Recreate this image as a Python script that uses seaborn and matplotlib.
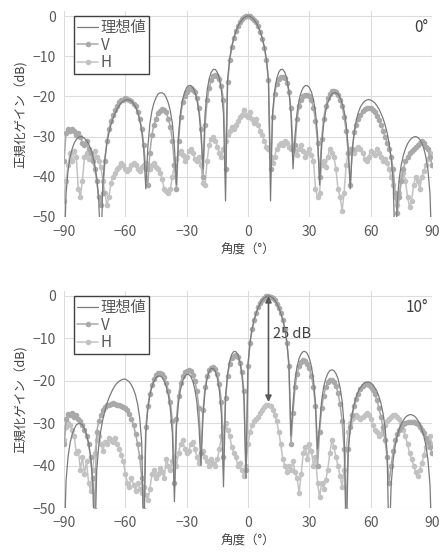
import matplotlib
matplotlib.use('Agg')
import pandas as pd
import matplotlib.pyplot as plt
import seaborn as sns

# Angles (deg), 1 degree step
angles = list(range(-90, 91))

# 0 deg steering: ideal, V, H (dB)
ideal_0 = [
    -60, -44.2, -38.3, -35.1, -33.0, -31.6, -30.7, -30.2, -30, -30.1, -30.4, -31.0, -31.8, -33.0, -34.6, -36.9, -40.2, -46.1,
    -60,
    -41.3, -35.3, -31.6, -29.0, -27.0, -25.4, -24.2, -23.1, -22.3, -21.6, -21.2, -20.9, -20.8, -20.9, -21.2, -21.8, -22.6, -23.9, -25.8, -28.6, -33.3,
    -43,
    -32.6, -26.8, -23.6, -21.6, -20.3, -19.4, -19.1, -19.1, -19.4, -20.3, -21.6, -23.6, -26.8, -32.6,
    -42,
    -29.6, -23.9, -20.8, -18.9, -17.8, -17.3, -17.3, -17.8, -18.9, -20.8, -23.9, -29.6,
    -38,
    -24.2, -18.6, -15.6, -14.0, -13.3, -13.3, -14.0, -15.6, -18.6, -24.2,
    -46,
    -16, -10.8, -7.7, -5.6, -4.0, -2.7, -1.7, -0.95, -0.4, -0.1,
    0,
    -0.1, -0.4, -0.95, -1.7, -2.7, -4.0, -5.6, -7.7, -10.8, -16,
    -46,
    -24.2, -18.6, -15.6, -14.0, -13.3, -13.3, -14.0, -15.6, -18.6, -24.2,
    -38,
    -29.6, -23.9, -20.8, -18.9, -17.8, -17.3, -17.3, -17.8, -18.9, -20.8, -23.9, -29.6,
    -42,
    -32.6, -26.8, -23.6, -21.6, -20.3, -19.4, -19.1, -19.1, -19.4, -20.3, -21.6, -23.6, -26.8, -32.6,
    -43,
    -33.3, -28.6, -25.8, -23.9, -22.6, -21.8, -21.2, -20.9, -20.8, -20.9, -21.2, -21.6, -22.3, -23.1, -24.2, -25.4, -27.0, -29.0, -31.6, -35.3, -41.3,
    -60,
    -46.1, -40.2, -36.9, -34.6, -33.0, -31.8, -31.0, -30.4, -30.1, -30, -30.2, -30.7, -31.6, -33.0, -35.1, -38.3, -44.2,
    -60,
]
v_0 = [
    -36, -29, -28, -28.5, -28, -28.5, -29.5, -29, -30, -31.5,
    -32, -31, -33, -34, -36, -38, -41, -45, -47, -44,
    -36, -31, -28, -26, -24.5, -23.5, -22.5, -21.5, -21, -20.8,
    -20.5, -20.6, -20.9, -21.2, -21.8, -22.5, -23.8, -25.5, -28, -32,
    -38, -42, -34, -29.5, -27, -25.5, -24.2, -23.6, -23.2, -23.4,
    -24, -25.5, -27.5, -31, -37, -43, -31, -25, -21.5, -19.8,
    -18.8, -18.2, -18, -18.3, -19, -20.5, -23, -28, -40, -27,
    -21, -17.8, -16, -15, -14.6, -14.8, -15.6, -17.5, -21, -38,
    -16.5, -11, -7.8, -5.5, -3.8, -2.5, -1.5, -0.8, -0.3, -0.05,
    0, -0.1, -0.4, -0.9, -1.6, -2.6, -3.9, -5.6, -7.9, -11,
    -16, -38, -25, -19.5, -16.8, -15.6, -15.2, -15.1, -15.5, -16.6,
    -18.8, -23, -33, -32, -25.5, -22.5, -20.8, -20, -19.6, -19.6,
    -20, -21, -22.8, -26, -31.5, -40, -30.5, -25.5, -22.5, -20.5,
    -19.3, -18.7, -18.6, -18.9, -19.6, -20.8, -22.5, -25, -28.5, -34,
    -42, -33, -28.8, -27, -25.5, -24.5, -23.6, -23.2, -23, -22.9,
    -23, -23.4, -24, -24.8, -25.8, -27, -28.5, -30, -31.5, -33,
    -35, -38, -44, -49, -45, -41, -38, -36, -35, -34,
    -33.5, -33, -32.5, -32, -31.5, -31, -31.5, -32.5, -33, -35,
    -37,
]
h_0 = [
    -46, -41, -37, -34, -36, -33.5, -35, -43, -45, -41,
    -35, -34, -35.5, -34, -35, -33.5, -35, -36, -37.5, -41,
    -44, -47, -45, -41.5, -40, -39, -38, -37.5, -36.5, -37,
    -38, -38.5, -38, -37, -36.5, -37, -38, -38.5, -37.5, -37,
    -36.5, -37.5, -38, -37, -36.5, -37.5, -38, -39, -40.5, -43,
    -43.5, -44, -43, -40, -37, -35.5, -34, -33.5, -34.5, -36,
    -35, -33.5, -33, -34, -35.5, -36, -35, -37, -41.5, -42,
    -36, -32, -30.5, -30, -31, -32.5, -34, -35, -33, -31,
    -29.5, -28.5, -27.5, -28, -27, -26, -25, -24.5, -23.5, -24.5,
    -25, -24, -25.5, -26.5, -25.5, -27, -28.5, -29.5, -31, -32.5,
    -33, -35, -36.5, -35, -33, -32, -31.5, -32, -31, -31.5,
    -32.5, -33, -32, -33.5, -34.5, -33, -32, -33.5, -35, -34,
    -33, -34.5, -36, -43, -45, -44, -37, -36, -37.5, -35,
    -33, -34, -35, -38, -43, -45, -48.5, -44, -37, -34,
    -33, -33.5, -34, -33, -32.5, -33, -34, -35.5, -36, -35,
    -33.5, -34, -34.5, -33, -34, -35, -36, -35.5, -36.5, -38,
    -40, -42, -45, -47, -44, -40, -39, -41, -45, -47.5,
    -46, -42, -40, -41, -43, -40, -38.5, -37, -35.5, -34,
    -37,
]

# 10 deg steering: ideal, V, H (dB)
ideal_10 = [
    -60,
    -43.6, -37.8, -34.6, -32.6, -31.3, -30.4, -30.1, -30.1, -30.4, -31.3, -32.6, -34.6, -37.8, -43.6,
    -60,
    -41.1, -35.2, -31.7, -29.1, -27.1, -25.4, -24.0, -22.9, -21.9, -21.1, -20.5, -20.1, -19.8, -19.6, -19.6, -19.9, -20.3, -21.0, -22.0, -23.4, -25.5, -28.7, -34.5,
    -60,
    -32.4, -26.6, -23.4, -21.4, -20.1, -19.2, -18.9, -18.9, -19.2, -20.1, -21.4, -23.4, -26.6, -32.4,
    -48.5,
    -30.8, -25.1, -22.0, -20.1, -19.0, -18.5, -18.5, -19.0, -20.1, -22.0, -25.1, -30.8,
    -40,
    -28, -22.4, -19.4, -17.8, -17.1, -17.1, -17.8, -19.4, -22.4, -28,
    -45,
    -24, -18.4, -15.4, -13.8, -13.1, -13.1, -13.8, -15.4, -18.4, -24,
    -43,
    -16, -10.8, -7.7, -5.6, -4.0, -2.7, -1.7, -0.95, -0.4, -0.1,
    0,
    -0.1, -0.4, -0.95, -1.7, -2.7, -4.0, -5.6, -7.7, -10.8, -16,
    -33,
    -25.4, -19.7, -16.6, -14.7, -13.6, -13.1, -13.1, -13.6, -14.7, -16.6, -19.7, -25.4,
    -36,
    -30.5, -24.7, -21.5, -19.5, -18.3, -17.6, -17.4, -17.6, -18.3, -19.5, -21.5, -24.7, -30.5,
    -60,
    -36.8, -30.9, -27.6, -25.3, -23.7, -22.4, -21.6, -20.9, -20.5, -20.3, -20.3, -20.5, -20.9, -21.6, -22.4, -23.7, -25.3, -27.6, -30.9, -36.8,
    -60,
    -44.5, -38.6, -35.3, -33.0, -31.4, -30.1, -29.3, -28.6, -28.2, -28.0, -28.0, -28.2, -28.6, -29.3, -30.1, -31.4, -33.0, -35.3, -38.6, -44.5,
    -60,
]
v_10 = [
    -35, -29, -27.8, -28, -27.5, -28.5, -28, -29, -29.5, -30.5,
    -31.5, -33, -35, -38, -43, -50.5, -32, -29.5, -28, -27,
    -26.2, -25.8, -25.6, -25.4, -25.3, -25.5, -25.6, -25.8, -26, -26.2,
    -26.5, -27, -27.8, -29, -30.5, -32.5, -35, -38, -43, -50.5,
    -31, -26, -23, -21, -19.5, -18.6, -18.2, -18.1, -18.4, -19.2,
    -20.5, -22.3, -25, -29.5, -44, -29, -23.5, -20.5, -18.9, -18,
    -17.6, -17.5, -17.8, -18.6, -20, -22.5, -26.5, -37, -27, -21.5,
    -18.8, -17.5, -16.9, -16.8, -17.3, -18.5, -20.8, -25, -38, -24,
    -18.8, -16, -14.7, -14.1, -14, -14.5, -15.8, -18, -22.5, -41,
    -16.5, -11, -7.9, -5.7, -4.0, -2.7, -1.7, -1.0, -0.45, -0.1,
    0, -0.12, -0.45, -1.0, -1.8, -2.8, -4.1, -5.7, -7.9, -11,
    -16.5, -35, -27.5, -21.5, -18.5, -16.5, -15.5, -15.2, -15.3, -16,
    -17, -18.8, -21.5, -26, -40, -32, -26.5, -23.5, -21.5, -20.3,
    -19.9, -19.8, -20.2, -21.2, -22.8, -25.5, -29.5, -36, -50.5, -36,
    -31, -28, -26, -24.3, -23, -22, -21.2, -20.8, -20.7, -20.9,
    -21.4, -22.2, -23.2, -24.6, -26.4, -28.5, -31, -34, -38, -44,
    -40, -36.5, -34, -32.5, -31.5, -30.8, -30.3, -30, -29.8, -29.7,
    -29.7, -29.8, -30, -30.3, -30.8, -31.5, -32.4, -33.5, -34.5, -35.5,
    -37,
]
h_10 = [
    -34, -31, -30, -30.5, -31.5, -33, -37, -36.5, -41, -38,
    -42, -39, -44, -46, -41, -37, -34, -33, -35, -36.5,
    -34.5, -35, -33.5, -34, -34.5, -33.5, -35, -36, -37.5, -39,
    -42, -44, -45, -43, -44.5, -46, -44, -45.5, -46.5, -45,
    -47, -48, -45.5, -42, -41, -43, -42, -40.5, -41.5, -43,
    -38.5, -40, -41, -39, -38, -40, -37, -35, -34, -36,
    -37, -36.5, -35, -34.5, -36, -38, -39.5, -37, -36.5, -38,
    -39, -40, -38.5, -39.5, -40, -38.5, -36, -33, -31, -30,
    -31.5, -33, -35.5, -37, -38, -40, -39.5, -41, -42.5, -40,
    -35, -32, -30.5, -29.5, -29, -28.5, -27.5, -26.8, -26.2, -25.8,
    -25.6, -26, -26.8, -28, -29.5, -32, -35, -38.5, -40, -41.5,
    -40, -41, -39, -41.5, -43, -46.5, -42, -37, -35.5, -38.5,
    -35, -36.5, -40, -38, -44, -47.5, -44, -45.5, -43.5, -41,
    -37, -34, -35.5, -38, -40, -42.5, -45, -41, -36, -32,
    -30, -29, -28.5, -28, -28.5, -29, -28.5, -28, -27.5, -28,
    -29, -30.5, -31.5, -32, -33, -32.5, -31.5, -30.5, -29.5, -29,
    -28.5, -28, -28, -28.5, -29, -30, -31.5, -33, -35, -37,
    -38.5, -40, -41.5, -42.5, -41, -39.5, -37.5, -35.5, -34, -33,
    -35,
]

x_ticks = [-90, -60, -30, 0, 30, 60, 90]
y_ticks = [0, -10, -20, -30, -40, -50]

IDEAL_C = '#7b7b7b'
V_C = '#a9a9a9'
H_C = '#c2c2c2'
TXT_C = '#595959'

sns.set_style('white')
plt.rcParams['font.family'] = ['Noto Sans CJK JP', 'DejaVu Sans']

fig = plt.figure(figsize=(4.4, 5.52), dpi=100)
ax1 = fig.add_axes([0.1455, 0.6069, 0.8364, 0.3728])
ax2 = fig.add_axes([0.1455, 0.0797, 0.8364, 0.3933])


def draw(ax, ideal, v, h, tag):
    df = pd.DataFrame({'角度': angles, '理想値': ideal, 'V': v, 'H': h})
    sns.lineplot(data=df, x='角度', y='H', ax=ax, color=H_C, lw=1.1,
                 marker='o', markersize=4.0, markeredgewidth=0, label='H', zorder=2)
    sns.lineplot(data=df, x='角度', y='V', ax=ax, color=V_C, lw=1.1,
                 marker='o', markersize=4.0, markeredgewidth=0, label='V', zorder=3)
    sns.lineplot(data=df, x='角度', y='理想値', ax=ax, color=IDEAL_C, lw=0.9,
                 label='理想値', zorder=4)

    ax.set_xlim(-90, 90)
    ax.set_ylim(-50, 1.2)
    ax.set_xticks(x_ticks)
    ax.set_yticks(y_ticks)
    ax.grid(True, color='#dcdcdc', lw=0.8)
    for s in ax.spines.values():
        s.set_visible(False)
    ax.tick_params(length=0, labelsize=10, labelcolor=TXT_C)
    ax.tick_params(axis='y', pad=6)
    ax.tick_params(axis='x', pad=6)
    ax.set_xlabel('角度（°）', fontsize=9, color='#404040', labelpad=3)
    ax.set_ylabel('正規化ゲイン（dB)', fontsize=9, color='#404040', labelpad=3)

    handles, labels = ax.get_legend_handles_labels()
    order = [labels.index(n) for n in ['理想値', 'V', 'H']]
    leg = ax.legend([handles[i] for i in order], [labels[i] for i in order],
                    loc='upper left', bbox_to_anchor=(0.027, 0.975), borderaxespad=0,
                    fontsize=11, frameon=True, fancybox=False, framealpha=1,
                    edgecolor='#404040', handlelength=1.4, handletextpad=0.15,
                    labelspacing=0.02, borderpad=0.2)
    leg.get_frame().set_linewidth(1.0)
    for t in leg.get_texts():
        t.set_color(TXT_C)

    ax.text(88, -2.8, tag, ha='right', va='center', fontsize=11, color='#404040')


draw(ax1, ideal_0, v_0, h_0, '0°')
draw(ax2, ideal_10, v_10, h_10, '10°')

ax2.annotate('', xy=(10, 0), xytext=(10, -25),
             arrowprops=dict(arrowstyle='<|-|>', color='#595959', lw=1.2,
                             shrinkA=0, shrinkB=0, mutation_scale=9))
ax2.text(12, -9, '25 dB', ha='left', va='center', fontsize=10.5, color='#404040')

fig.savefig('out.png', dpi=100)
